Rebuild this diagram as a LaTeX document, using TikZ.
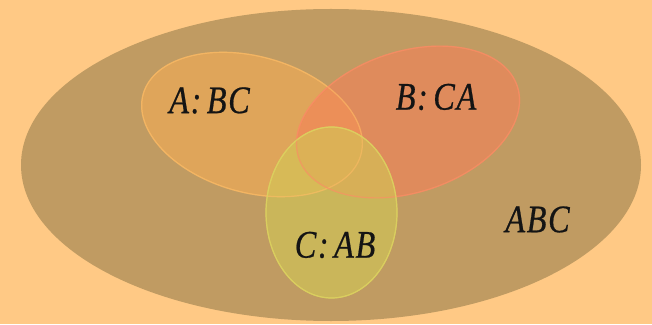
\documentclass[tikz,border=0pt]{standalone}
\usepackage{fontspec}
\setmainfont{Liberation Serif}
\newfontfamily\labfont[FakeBold=0.6,LetterSpace=5]{Liberation Serif Italic}
\newcommand{\lbl}[1]{\scalebox{0.83}[1]{\labfont #1}}
\begin{document}
\begin{tikzpicture}[x=1pt,y=1pt,
  lab/.style={font=\fontsize{39}{39}\selectfont, text=black!92, inner sep=0pt},
  setA/.style={fill={rgb,255:red,244;green,172;blue,85}, fill opacity=0.6, draw={rgb,255:red,250;green,185;blue,100}, draw opacity=0.6, line width=1.2pt},
  setB/.style={fill={rgb,255:red,245;green,129;blue,88}, fill opacity=0.6, draw={rgb,255:red,250;green,140;blue,100}, draw opacity=0.6, line width=1.2pt},
  setC/.style={fill={rgb,255:red,210;green,200;blue,85}, fill opacity=0.6, draw={rgb,255:red,220;green,210;blue,95}, draw opacity=0.7, line width=1.2pt}]
\definecolor{bgc}{RGB}{255,201,133}
\definecolor{bigc}{RGB}{192,155,98}
\fill[bgc] (0,0) rectangle (652,324);
\useasboundingbox (0,0) rectangle (652,324);
\fill[bigc] (331,159) ellipse [x radius=310, y radius=156];
\fill[setA, rotate around={-15.6:(252,199.5)}] (252,199.5) ellipse [x radius=113, y radius=68];
\fill[setB, rotate around={18:(408,202)}] (408,202) ellipse [x radius=115, y radius=70.5];
\fill[setC] (331.5,111.5) ellipse [x radius=65.5, y radius=85.5];
\draw[setA, fill=none, rotate around={-15.6:(252,199.5)}] (252,199.5) ellipse [x radius=113, y radius=68];
\draw[setB, fill=none, rotate around={18:(408,202)}] (408,202) ellipse [x radius=115, y radius=70.5];
\draw[setC, fill=none] (331.5,111.5) ellipse [x radius=65.5, y radius=85.5];
\node[lab] (a) at (209.5,223.5) {\lbl{A:\,BC}};
\node[lab] (b) at (436,227) {\lbl{B:\,CA}};
\node[lab] (c) at (335,79) {\lbl{C:\,AB}};
\node[lab] (abc) at (537.5,104.5) {\lbl{ABC}};
\end{tikzpicture}
\end{document}
